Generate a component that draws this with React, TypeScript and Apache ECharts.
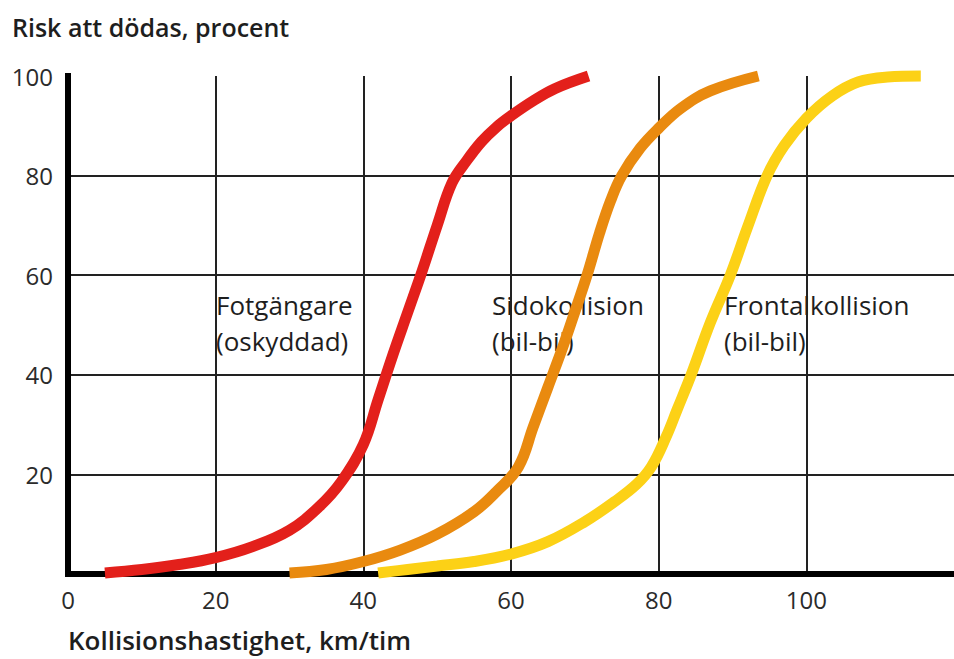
import React, { useEffect, useRef } from "react";
import * as echarts from "echarts";

// Data (speed km/h, risk %)
const redPoints: [number, number][] = [
  [5, 0.2], [10, 0.9], [15, 1.9], [20, 3.3], [25, 5.5], [30, 8.8], [34, 13.5], [37, 18.5],
  [40, 26], [42, 35], [44, 44], [46, 52.5], [48, 61], [50, 70], [52, 78.5], [54, 83],
  [56, 86.8], [58, 89.7], [60, 92], [63, 95], [66, 97.5], [70.5, 100],
];
const orangePoints: [number, number][] = [
  [30, 0.2], [35, 0.9], [40, 2.5], [45, 4.8], [50, 8], [55, 12.5], [58, 16.5], [61, 21.5],
  [63, 29.5], [65, 37.5], [67, 45.5], [68.5, 52], [70.3, 60], [72, 68.5], [73.5, 75], [75, 80],
  [77.5, 85.5], [80, 89.5], [83, 93.5], [87, 97], [93.5, 100],
];
const yellowPoints: [number, number][] = [
  [42, 0.2], [46, 0.9], [50, 1.6], [55, 2.5], [60, 4], [65, 6.5], [70, 10.5], [74, 14.5],
  [77, 18], [79, 21.5], [81, 27.5], [82.5, 33], [84.4, 40], [87, 50.5], [89.7, 60], [92, 69.5],
  [94.7, 80], [97, 86], [100, 91.5], [103.5, 96], [107, 98.8], [111, 99.8], [115.5, 100],
];
const seriesNames = ["Fotgängare (oskyddad)", "Sidokollision (bil-bil)", "Frontalkollision (bil-bil)"];
const seriesColors = ["#e3201b", "#e98a0f", "#fcd116"];
const curveLabels = ["Fotgängare\n(oskyddad)", "Sidokollision\n(bil-bil)", "Frontalkollision\n(bil-bil)"];
const curveLabelX = [216, 492, 724];
const yTitle = "Risk att dödas, procent";
const xTitle = "Kollisionshastighet, km/tim";

const FONT = "'Open Sans', 'Noto Sans', sans-serif";

export default function App() {
  const ref = useRef<HTMLDivElement>(null);
  useEffect(() => {
    if (!ref.current) return;
    const chart = echarts.init(ref.current, undefined, { renderer: "svg" });
    const datasets = [redPoints, orangePoints, yellowPoints];
    chart.setOption({
      animation: false,
      backgroundColor: "#ffffff",
      grid: { left: 68, top: 76, right: 0, bottom: 85, containLabel: false },
      xAxis: {
        type: "value",
        min: 0,
        max: 120,
        interval: 20,
        axisLine: { show: true, onZero: false, lineStyle: { color: "#000", width: 6, cap: "square" } },
        axisTick: { show: false },
        axisLabel: {
          show: true,
          margin: 13,
          color: "#2b2b2b",
          fontSize: 24,
          fontFamily: FONT,
          showMaxLabel: false,
        },
        splitLine: { show: true, showMinLine: false, showMaxLine: false, lineStyle: { color: "#222", width: 2 } },
      },
      yAxis: {
        type: "value",
        min: 0,
        max: 100,
        interval: 20,
        axisLine: { show: true, onZero: false, lineStyle: { color: "#000", width: 6, cap: "square" } },
        axisTick: { show: false },
        axisLabel: {
          show: true,
          margin: 15,
          color: "#2b2b2b",
          fontSize: 24,
          fontFamily: FONT,
          formatter: (v: number) => (v === 0 ? "" : String(v)),
        },
        splitLine: { show: true, showMinLine: false, showMaxLine: false, lineStyle: { color: "#222", width: 2 } },
      },
      graphic: [
        {
          type: "text",
          left: 12,
          top: 14,
          z: 10,
          style: { text: yTitle, fill: "#1e1e1e", font: `600 25px ${FONT}` },
        },
        {
          type: "text",
          left: 68,
          top: 627,
          z: 10,
          style: { text: xTitle, fill: "#1e1e1e", font: `600 26px ${FONT}` },
        },
        ...curveLabels.map((t, i) => ({
          type: "text",
          x: curveLabelX[i],
          y: 287,
          z: -1,
          style: {
            text: t,
            fill: "#1e1e1e",
            font: `500 26px ${FONT}`,
            lineHeight: 36,
            textVerticalAlign: "top",
          },
        })),
      ],
      series: datasets.map((d, i) => ({
        name: seriesNames[i],
        type: "line",
        data: d,
        smooth: 0.4,
        showSymbol: false,
        symbol: "none",
        clip: false,
        z: 3,
        lineStyle: { color: seriesColors[i], width: 11, cap: "butt" },
      })),
    });
    return () => chart.dispose();
  }, []);
  return (
    <div
      ref={ref}
      style={{ position: "absolute", left: 0, top: 0, width: 954, height: 659, background: "#fff" }}
    />
  );
}
